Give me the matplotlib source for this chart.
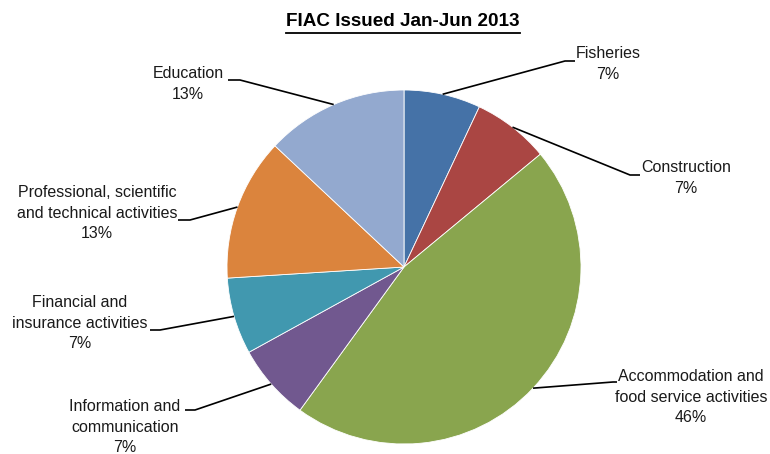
import matplotlib
matplotlib.use("Agg")
import matplotlib.pyplot as plt
import numpy as np
from matplotlib.lines import Line2D

categories = ["Fisheries", "Construction", "Accommodation and\nfood service activities",
              "Information and\ncommunication", "Financial and\ninsurance activities",
              "Professional, scientific\nand technical activities", "Education"]
percents = [7, 7, 46, 7, 7, 13, 13]
colors = ["#4572A7", "#AA4643", "#89A54E", "#71588F", "#4198AF", "#DB843D", "#93A9CF"]
title = "FIAC Issued Jan-Jun 2013"

W, H = 770, 454
fig = plt.figure(figsize=(W / 100, H / 100), dpi=100)
ax = fig.add_axes([0, 0, 1, 1])
ax.set_xlim(0, W)
ax.set_ylim(0, H)
ax.axis("off")

plt.rcParams['font.family'] = ['Liberation Sans Narrow', 'Liberation Sans', 'DejaVu Sans']

cx, cy, r = 404, H - 267, 177
wedges, _ = ax.pie(percents, colors=colors, startangle=90, counterclock=False,
                   center=(cx, cy), radius=r,
                   wedgeprops=dict(linewidth=0.6, edgecolor="white"))
ax.set_xlim(0, W)
ax.set_ylim(0, H)
ax.set_aspect("equal")

# layout: bend point (px), end of horizontal stub (px), label centre (px)
layout = [
    ((565, 61), (575, 61), (608, 64)),
    ((630, 175), (640, 175), (686, 178)),
    ((613, 382), (617, 382), (691, 397)),
    ((195, 410), (185, 410), (125, 427)),
    ((160, 330), (150, 330), (80, 323)),
    ((190, 220), (178, 220), (97, 213)),
    ((240, 80), (228, 80), (188, 84)),
]

for w, cat, p, (bend, stub, lab) in zip(wedges, categories, percents, layout):
    ang = np.deg2rad((w.theta1 + w.theta2) / 2)
    sx, sy = cx + r * np.cos(ang), cy + r * np.sin(ang)
    xs = [sx, bend[0], stub[0]]
    ys = [sy, H - bend[1], H - stub[1]]
    ax.add_line(Line2D(xs, ys, color="black", lw=1.2, solid_capstyle="butt"))
    ax.text(lab[0], H - lab[1], f"{cat}\n{p}%", ha="center", va="center",
            fontsize=11.5, linespacing=1.45, color="#1a1a1a")

t = ax.text(403, H - 21, title, ha="center", va="center", fontsize=13.6,
            fontweight="bold", color="black")
fig.canvas.draw()
bb = t.get_window_extent()
ax.add_line(Line2D([bb.x0, bb.x1], [H - 33, H - 33], color="black", lw=1.3))

fig.savefig("out.png", dpi=100)
